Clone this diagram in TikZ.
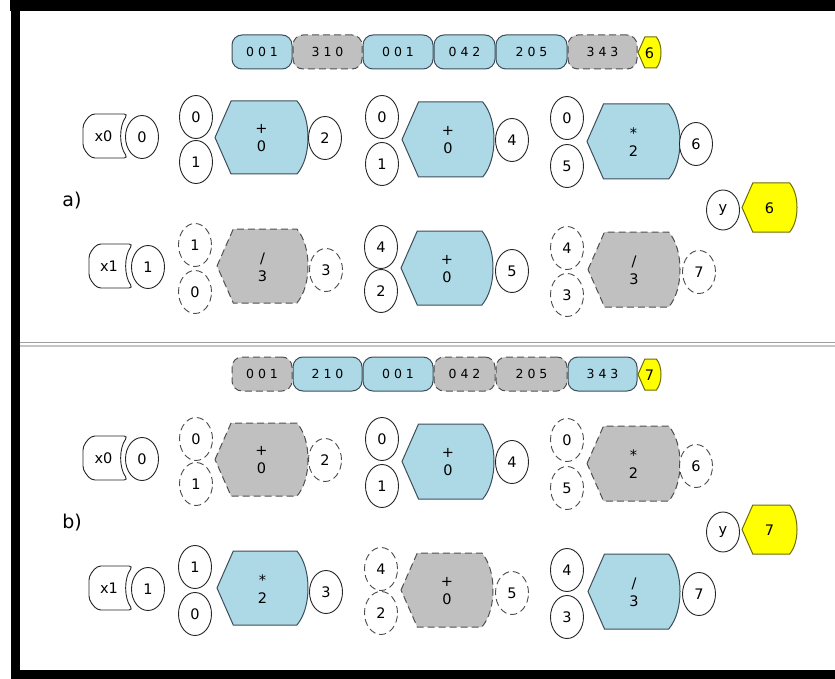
\documentclass[tikz,border=0pt]{standalone}
\usepackage{fontspec}
\setmainfont{DejaVu Sans}
\usepackage{xcolor}
\definecolor{opblue}{RGB}{173,216,230}
\definecolor{opedge}{RGB}{60,78,90}
\definecolor{offgray}{RGB}{192,192,192}
\definecolor{offedge}{RGB}{80,80,80}
\definecolor{resyellow}{RGB}{255,255,0}
\definecolor{resedge}{RGB}{110,110,0}
\usetikzlibrary{shapes.geometric,positioning}
\tikzset{
  liveop/.style={draw=opedge,fill=opblue,line width=1pt},
  deadop/.style={draw=offedge,fill=offgray,line width=1pt,dash pattern=on 7pt off 4pt},
  resop/.style={draw=resedge,fill=resyellow,line width=1pt},
  optext/.style={font=\fontsize{14.5}{18}\selectfont,align=center,inner sep=0pt},
  livereg/.style={draw=black!85,fill=white,ellipse,minimum width=33pt,minimum height=43pt,%
    inner sep=0pt,line width=0.9pt,font=\fontsize{14.5}{16}\selectfont},
  deadreg/.style={livereg,draw=black!70,dash pattern=on 7pt off 4pt},
  inbox/.style={draw=black!85,fill=white,line width=0.9pt,rounded corners=4pt},
  chiplive/.style={draw=opedge,fill=opblue,line width=1pt,rounded corners=10pt,%
    minimum height=34pt,inner sep=0pt,font=\fontsize{12.5}{14}\selectfont},
  chipdead/.style={chiplive,draw=offedge,fill=offgray,dash pattern=on 7pt off 4pt},
  panel/.style={font=\fontsize{19}{22}\selectfont,inner sep=0pt},
}
% op shape: style, name, left, right, top, bottom, text
\newcommand{\opshape}[7]{%
  \draw[#1] (#3,{(#5+#6)/2}) -- ({#3+0.22*(#6-#5)},#5) -- ({#4-0.15*(#6-#5)},#5)
    .. controls ({#4-0.05*(#6-#5)},{#5+0.12*(#6-#5)}) and (#4,{#5+0.3*(#6-#5)}) .. (#4,{(#5+#6)/2})
    .. controls (#4,{#6-0.3*(#6-#5)}) and ({#4-0.05*(#6-#5)},{#6-0.12*(#6-#5)}) .. ({#4-0.15*(#6-#5)},#6)
    -- ({#3+0.22*(#6-#5)},#6) -- cycle;
  \node[optext] (#2) at ({(#3+#4)/2},{(#5+#6)/2+1}) {#7};}
% input shape: name, left, right, top, bottom, text
\newcommand{\inshape}[6]{%
  \draw[inbox] ({#2+8},#4) -- (#3,#4) .. controls ({#3-9},{#4+12}) and ({#3-9},{#5-12}) .. (#3,#5)
    -- ({#2+8},#5) -- (#2,{#5-10}) -- (#2,{#4+10}) -- cycle;
  \node[optext] (#1) at ({(#2+#3)/2-2},{(#4+#5)/2}) {#6};}

\begin{document}
\begin{tikzpicture}[x=1pt,y=-1pt]
\useasboundingbox (0,0) rectangle (835,679);
\fill[white] (0,0) rectangle (835,679);
% frame
\fill[black] (10,0) rectangle (835,11);
\fill[black] (11,0) rectangle (20,679);
\fill[black] (11,670) rectangle (835,679);
\draw[gray!75,line width=1.6pt] (20,342.5) -- (835,342.5);
\draw[gray!45,line width=1.2pt] (20,346) -- (835,346);

%% panel a
\node[chiplive,minimum width=60pt] (ac1) at (262,52) {0 0 1};
\node[chipdead,minimum width=69pt] (ac2) at (327.5,52) {3 1 0};
\node[chiplive,minimum width=70pt] (ac3) at (398,52) {0 0 1};
\node[chiplive,minimum width=61pt] (ac4) at (464.5,52) {0 4 2};
\node[chiplive,minimum width=71pt] (ac5) at (531.5,52) {2 0 5};
\node[chipdead,minimum width=69pt] (ac6) at (602.5,52) {3 4 3};
\opshape{resop}{ac7}{638}{661}{37}{68}{6}

\node[panel] (la) at (72,201) {a)};
\inshape{ax0}{83}{128}{114}{158}{x0}
\node[livereg] (ax0r) at (142,137) {0};
\inshape{ax1}{89}{133}{244}{288}{x1}
\node[livereg] (ax1r) at (148,267) {1};

\opshape{liveop}{aop1}{215}{308}{101}{174}{+\\0}
\node[livereg] (aop1i) at (196,117) {0};
\node[livereg] (aop1j) at (196,162) {1};
\node[livereg] (aop1o) at (325,138) {2};

\opshape{liveop}{aop2}{402}{494}{102}{177}{+\\0}
\node[livereg] (aop2i) at (382,117) {0};
\node[livereg] (aop2j) at (382,164) {1};
\node[livereg] (aop2o) at (512,140) {4};

\opshape{liveop}{aop3}{587}{680}{104}{179}{*\\2}
\node[livereg] (aop3i) at (567,118) {0};
\node[livereg] (aop3j) at (567,166) {5};
\node[livereg] (aop3o) at (696,144) {6};

\opshape{deadop}{aop4}{217}{308}{229}{303}{/\\3}
\node[deadreg] (aop4i) at (195,245) {1};
\node[deadreg] (aop4j) at (195,292) {0};
\node[deadreg] (aop4o) at (326,270) {3};

\opshape{liveop}{aop5}{401}{493}{231}{305}{+\\0}
\node[livereg] (aop5i) at (381,247) {4};
\node[livereg] (aop5j) at (381,291) {2};
\node[livereg] (aop5o) at (512,271) {5};

\opshape{deadop}{aop6}{588}{680}{232}{307}{/\\3}
\node[deadreg] (aop6i) at (567,248) {4};
\node[deadreg] (aop6j) at (567,295) {3};
\node[deadreg] (aop6o) at (699,272) {7};

\node[livereg,minimum height=40pt] (ay) at (723,210) {y};
\opshape{resop}{ayv}{742}{797}{183}{232}{6}

%% panel b
\begin{scope}[yshift=-322pt]
\node[chipdead,minimum width=60pt] (bc1) at (262,52) {0 0 1};
\node[chiplive,minimum width=69pt] (bc2) at (327.5,52) {2 1 0};
\node[chiplive,minimum width=70pt] (bc3) at (398,52) {0 0 1};
\node[chipdead,minimum width=61pt] (bc4) at (464.5,52) {0 4 2};
\node[chipdead,minimum width=71pt] (bc5) at (531.5,52) {2 0 5};
\node[chiplive,minimum width=69pt] (bc6) at (602.5,52) {3 4 3};
\opshape{resop}{bc7}{638}{661}{37}{68}{7}

\node[panel] (lb) at (72,201) {b)};
\inshape{bx0}{83}{128}{114}{158}{x0}
\node[livereg] (bx0r) at (142,137) {0};
\inshape{bx1}{89}{133}{244}{288}{x1}
\node[livereg] (bx1r) at (148,267) {1};

\opshape{deadop}{bop1}{215}{308}{101}{174}{+\\0}
\node[deadreg] (bop1i) at (196,117) {0};
\node[deadreg] (bop1j) at (196,162) {1};
\node[deadreg] (bop1o) at (325,138) {2};

\opshape{liveop}{bop2}{402}{494}{102}{177}{+\\0}
\node[livereg] (bop2i) at (382,117) {0};
\node[livereg] (bop2j) at (382,164) {1};
\node[livereg] (bop2o) at (512,140) {4};

\opshape{deadop}{bop3}{587}{680}{104}{179}{*\\2}
\node[deadreg] (bop3i) at (567,118) {0};
\node[deadreg] (bop3j) at (567,166) {5};
\node[deadreg] (bop3o) at (696,144) {6};

\opshape{liveop}{bop4}{217}{308}{229}{303}{*\\2}
\node[livereg] (bop4i) at (195,245) {1};
\node[livereg] (bop4j) at (195,292) {0};
\node[livereg] (bop4o) at (326,270) {3};

\opshape{deadop}{bop5}{401}{493}{231}{305}{+\\0}
\node[deadreg] (bop5i) at (381,247) {4};
\node[deadreg] (bop5j) at (381,291) {2};
\node[deadreg] (bop5o) at (512,271) {5};

\opshape{liveop}{bop6}{588}{680}{232}{307}{/\\3}
\node[livereg] (bop6i) at (567,248) {4};
\node[livereg] (bop6j) at (567,295) {3};
\node[livereg] (bop6o) at (699,272) {7};

\node[livereg,minimum height=40pt] (by) at (723,210) {y};
\opshape{resop}{byv}{742}{797}{183}{232}{7}
\end{scope}
\end{tikzpicture}
\end{document}
